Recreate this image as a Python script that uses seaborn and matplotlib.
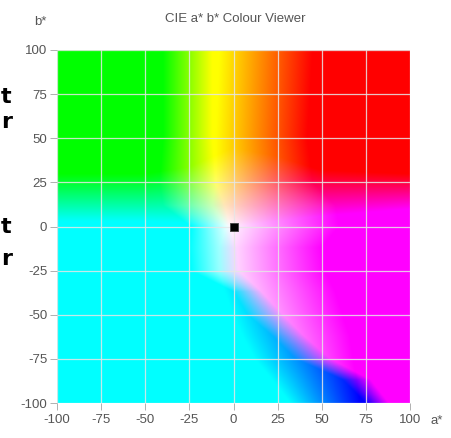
import numpy as np
import seaborn as sns
import matplotlib.pyplot as plt

# axis ticks (a* and b*)
ticks = [-100, -75, -50, -25, 0, 25, 50, 75, 100]

# selected colour marker
sel_a = [0]
sel_b = [0]

# colour field read off the viewer
# red / green ramps per b* row: channel = 1 / 0 at these a* positions
row_b = [-100, -87, -75, -62, -50, -37, -25, -12, 0, 12, 25, 50, 100]
red_zero = [75, 62, 35, 22, 8, 0, -24, -25, -24, -40, -42, -40, -40]
red_full = [88, 78, 55, 40, 28, 16, 3, 2, -2, -5, -10, -12, -12]
green_full = [32, 22, 12, 5, 0, -5, -8, -8, -4, -12, -10, -10, -8]
green_zero = [72, 70, 68, 66, 62, 58, 52, 50, 60, 58, 45, 42, 45]
# blue ramp per a* column: B = 1 below blue_full, 0 above blue_zero
col_a = [-100, -50, -25, 0, 25, 50, 100]
blue_full = [3, 3, 2, 0, 3, 6, 10]
blue_zero = [30, 30, 34, 45, 40, 32, 30]

n = 400
a = np.linspace(-100, 100, n)
b = np.linspace(-100, 100, n)
A, B = np.meshgrid(a, b)


def ramp(x, lo, hi):
    return np.clip((x - lo) / (hi - lo), 0, 1)


r0 = np.interp(B, row_b, red_zero)
r1 = np.interp(B, row_b, red_full)
g1 = np.interp(B, row_b, green_full)
g0 = np.interp(B, row_b, green_zero)
b1 = np.interp(A, col_a, blue_full)
b0 = np.interp(A, col_a, blue_zero)

rgb = np.dstack([
    ramp(A, r0, r1),
    1 - ramp(A, g1, g0),
    1 - ramp(B, b1, b0),
])

sns.set_theme(style="white")
plt.rcParams["font.family"] = ["Liberation Sans", "DejaVu Sans"]
plt.rcParams["axes.unicode_minus"] = False

fig = plt.figure(figsize=(4.52, 4.38), dpi=100)
ax = fig.add_axes([57 / 452, 35 / 438, 353 / 452, 353 / 438])

ax.imshow(rgb, extent=[-100, 100, -100, 100], origin="lower",
          interpolation="bilinear", aspect="auto", zorder=0)
sns.scatterplot(x=sel_a, y=sel_b, marker="s", s=26, color="black",
                edgecolor="#444444", linewidth=0.6, ax=ax, zorder=5)

ax.set_xlim(-100, 100)
ax.set_ylim(-100, 100)
ax.set_xticks(ticks)
ax.set_yticks(ticks)
ax.grid(True, color="#e6e6e6", linewidth=0.9, alpha=0.85)
ax.set_axisbelow(False)
for sp in ax.spines.values():
    sp.set_visible(False)
ax.tick_params(axis="both", direction="out", length=5, width=0.7,
               color="#b0b0b0", labelcolor="#555555", labelsize=9.5,
               bottom=True, left=True)
ax.tick_params(axis="x", pad=3)
ax.tick_params(axis="y", pad=2)
ax.set_xlabel("")
ax.set_ylabel("")

fig.text(235 / 452, 1 - 19 / 438, "CIE a* b* Colour Viewer", ha="center",
         va="center", fontsize=9.5, color="#555555")
fig.text(40 / 452, 1 - 22 / 438, "b*", ha="center", va="center",
         fontsize=9.5, color="#555555")
fig.text(437 / 452, 1 - 421 / 438, "a*", ha="center", va="center",
         fontsize=9.5, color="#555555")

# text from the page behind the viewer, at its left edge
for txt, y in [("t", 103), ("r", 128), ("t", 233), ("r", 265)]:
    fig.text(1 / 452, 1 - y / 438, txt, ha="left", va="baseline",
             fontsize=16, fontweight="bold", color="black",
             family=["DejaVu Sans"])

fig.savefig("out.png", dpi=100)
